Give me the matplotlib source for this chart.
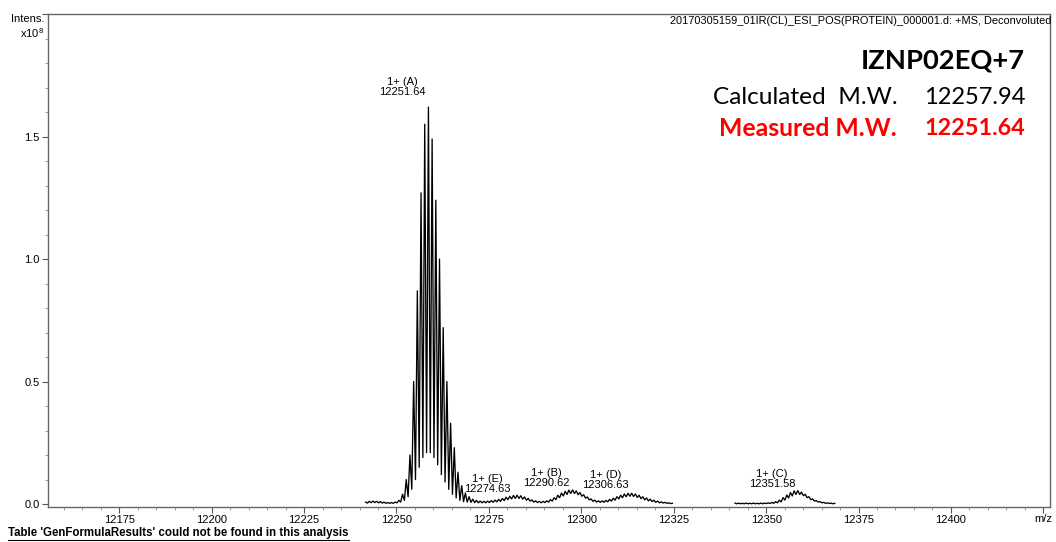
import numpy as np
import matplotlib
matplotlib.use('Agg')
import matplotlib.pyplot as plt
from matplotlib.ticker import MultipleLocator
from matplotlib.lines import Line2D

plt.rcParams['font.family'] = ['Liberation Sans', 'DejaVu Sans']
plt.rcParams['mathtext.fontset'] = 'custom'
plt.rcParams['mathtext.rm'] = 'Liberation Sans'

# deconvoluted profile, first trace: isotope tops every 1 Da starting at 12241.64
trace1_start = 12241.64
trace1_tops = [0.008, 0.011, 0.012, 0.011, 0.010, 0.008, 0.006, 0.006, 0.008, 0.015,
               0.04, 0.10, 0.20, 0.50, 0.87, 1.27, 1.55, 1.62, 1.49, 1.24,
               1.00, 0.72, 0.50, 0.33, 0.23, 0.13, 0.075, 0.045, 0.03, 0.02,
               0.015, 0.012, 0.011, 0.012, 0.014, 0.016, 0.019, 0.023, 0.028, 0.032,
               0.035, 0.036, 0.034, 0.029, 0.023, 0.017, 0.013, 0.011, 0.011, 0.013,
               0.018, 0.026, 0.036, 0.045, 0.052, 0.057, 0.058, 0.054, 0.047, 0.038,
               0.029, 0.021, 0.016, 0.013, 0.013, 0.015, 0.019, 0.024, 0.030, 0.036,
               0.041, 0.044, 0.044, 0.041, 0.036, 0.030, 0.025, 0.020, 0.016, 0.012,
               0.009, 0.007, 0.005, 0.003]
trace1_dips = [0.004, 0.006, 0.006, 0.005, 0.004, 0.003, 0.003, 0.003, 0.005, 0.008,
               0.015, 0.03, 0.06, 0.10, 0.15, 0.19, 0.21, 0.21, 0.19, 0.16,
               0.12, 0.09, 0.06, 0.04, 0.025, 0.015, 0.010, 0.008, 0.007, 0.006,
               0.005, 0.005, 0.005, 0.006, 0.007, 0.009, 0.011, 0.014, 0.018, 0.021,
               0.023, 0.023, 0.020, 0.016, 0.012, 0.008, 0.006, 0.005, 0.006, 0.008,
               0.012, 0.018, 0.026, 0.033, 0.039, 0.043, 0.043, 0.038, 0.032, 0.024,
               0.017, 0.011, 0.008, 0.007, 0.007, 0.009, 0.012, 0.016, 0.021, 0.026,
               0.030, 0.032, 0.031, 0.027, 0.022, 0.017, 0.013, 0.010, 0.007, 0.005,
               0.004, 0.003, 0.002]

# second trace (species C)
trace2_start = 12341.58
trace2_tops = [0.004, 0.004, 0.003, 0.004, 0.003, 0.004, 0.003, 0.004, 0.004, 0.005,
               0.007, 0.010, 0.016, 0.026, 0.037, 0.047, 0.054, 0.055, 0.049, 0.040,
               0.030, 0.021, 0.014, 0.010, 0.007, 0.005, 0.004, 0.003]
trace2_dips = [0.001, 0.001, 0.001, 0.001, 0.001, 0.001, 0.001, 0.001, 0.002, 0.002,
               0.003, 0.005, 0.009, 0.016, 0.025, 0.033, 0.039, 0.039, 0.034, 0.026,
               0.018, 0.012, 0.008, 0.005, 0.003, 0.002, 0.001]

# peak annotations
peak_tags = ['1+ (A)', '1+ (E)', '1+ (B)', '1+ (D)', '1+ (C)']
peak_mz = [12251.64, 12274.63, 12290.62, 12306.63, 12351.58]
tag_base = [1.66, 0.043, 0.067, 0.059, 0.063]

header = '20170305159_01IR(CL)_ESI_POS(PROTEIN)_000001.d: +MS, Deconvoluted'
sample = 'IZNP02EQ+7'
calc_mw = '12257.94'
meas_mw = '12251.64'


def zigzag(start, tops, dips):
    # alternate isotope tops with the troughs between them
    xs, ys = [], []
    for i, t in enumerate(tops):
        xs.append(start + i)
        ys.append(t)
        if i < len(dips):
            xs.append(start + i + 0.5)
            ys.append(dips[i])
    return np.array(xs), np.array(ys)


W, H = 1056, 542
fig = plt.figure(figsize=(W / 100, H / 100), dpi=100)
ax = fig.add_axes([48.3 / W, 1 - 506.5 / H, (1050 - 48.3) / W, (506.5 - 14) / H])

for start, tops, dips in [(trace1_start, trace1_tops, trace1_dips),
                          (trace2_start, trace2_tops, trace2_dips)]:
    x, y = zigzag(start, tops, dips)
    ax.plot(x, y, color='black', lw=0.95)

for tag, mz, base in zip(peak_tags, peak_mz, tag_base):
    ax.text(mz, base, '%s\n%.2f' % (tag, mz), ha='center', va='bottom',
            fontsize=8, linespacing=1.0)

ax.set_xlim(12155.8, 12426.8)
ax.set_ylim(-0.01, 2.0)
ax.xaxis.set_major_locator(MultipleLocator(25))
ax.xaxis.set_minor_locator(MultipleLocator(5))
ax.yaxis.set_major_locator(MultipleLocator(0.5))
ax.yaxis.set_minor_locator(MultipleLocator(0.1))
ax.yaxis.set_major_formatter(plt.FuncFormatter(
    lambda v, p: '' if v > 1.9 else '%.1f' % v))
ax.tick_params(which='major', direction='out', length=4, width=0.8,
               color='#555555', labelsize=8, pad=2)
ax.tick_params(which='minor', direction='out', length=2, width=0.5,
               color='#777777')
ax.xaxis.set_major_formatter(plt.FuncFormatter(
    lambda v, p: '' if v > 12410 or v < 12160 else '%d' % v))
for s in ax.spines.values():
    s.set_color('#666666')
    s.set_linewidth(1.0)


def px(x, y):
    return x / W, 1 - y / H


fig.text(*px(1051, 20.5), header, ha='right', va='center', fontsize=7.9)
fig.text(*px(44, 19), 'Intens.', ha='right', va='center', fontsize=8)
fig.text(*px(44, 33), r'x10$^{8}$', ha='right', va='center', fontsize=8)
fig.text(*px(1052, 519), 'm/z', ha='right', va='center', fontsize=8)

big = ['Lato', 'DejaVu Sans']
fig.text(*px(1025, 61), sample, ha='right', va='center', fontsize=19.7,
         fontweight='bold', family=big)
fig.text(*px(898, 97), 'Calculated  M.W.', ha='right', va='center',
         fontsize=17.6, family=big)
fig.text(*px(1025, 97), calc_mw, ha='right', va='center', fontsize=17,
         family=big)
fig.text(*px(897, 128.5), 'Measured M.W.', ha='right', va='center',
         fontsize=17.8, fontweight='bold', color='red', family=big)
fig.text(*px(1025, 128.5), meas_mw, ha='right', va='center', fontsize=16.8,
         fontweight='bold', color='red', family=big)

note = fig.text(*px(8, 533), "Table 'GenFormulaResults' could not be found in this analysis",
                ha='left', va='center', fontsize=8.3, fontweight='bold')
fig.canvas.draw()
bb = note.get_window_extent().transformed(fig.transFigure.inverted())
fig.add_artist(Line2D([bb.x0, bb.x1], [bb.y0 - 0.002, bb.y0 - 0.002],
                      color='black', lw=0.8, transform=fig.transFigure))

fig.savefig('out.png', dpi=100)
